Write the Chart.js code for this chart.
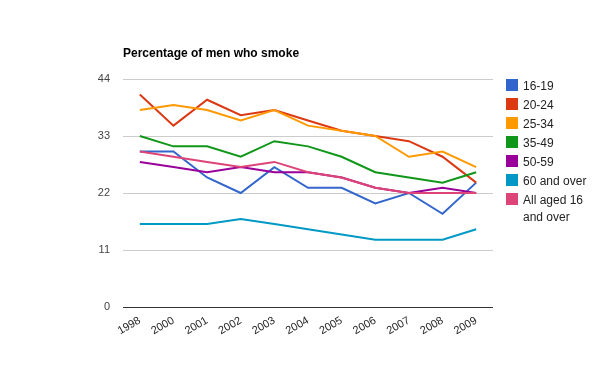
<!DOCTYPE html>
<html>
<head>
<meta charset="utf-8">
<script src="https://cdn.jsdelivr.net/npm/chart.js@4"></script>
<style>
html,body{margin:0;padding:0;background:#fff;}
#wrap{position:relative;width:600px;height:371px;}
#legend{position:absolute;left:506px;top:79px;font-family:Arial,"Liberation Sans",sans-serif;font-size:12px;color:#222;}
.li{position:relative;height:19px;}
.li .sw{position:absolute;left:0;top:0;width:12px;height:12px;}
.li .tx{position:absolute;left:17px;top:-1px;line-height:17px;white-space:nowrap;}
</style>
</head>
<body>
<div id="wrap">
<canvas id="c" width="600" height="371"></canvas>
<div id="legend"></div>
</div>
<script>
const title = "Percentage of men who smoke";
const years = ["1998","2000","2001","2002","2003","2004","2005","2006","2007","2008","2009"];
const seriesNames = ["16-19","20-24","25-34","35-49","50-59","60 and over","All aged 16 and over"];
const legendLines = [["16-19"],["20-24"],["25-34"],["35-49"],["50-59"],["60 and over"],["All aged 16","and over"]];
const age16_19 = [30,30,25,22,27,23,23,20,22,18,24];
const age20_24 = [41,35,40,37,38,36,34,33,32,29,24];
const age25_34 = [38,39,38,36,38,35,34,33,29,30,27];
const age35_49 = [33,31,31,29,32,31,29,26,25,24,26];
const age50_59 = [28,27,26,27,26,26,25,23,22,23,22];
const age60plus = [16,16,16,17,16,15,14,13,13,13,15];
const allAged = [30,29,28,27,28,26,25,23,22,22,22];
const yTicks = [0,11,22,33,44];
const colors = ["#3366cc","#dc3912","#ff9900","#109618","#990099","#0099c6","#dd4477"];

const allData = [age16_19,age20_24,age25_34,age35_49,age50_59,age60plus,allAged];
const datasets = allData.map((d,i)=>({
  label: seriesNames[i],
  data: d,
  borderColor: colors[i],
  backgroundColor: colors[i],
  borderWidth: 2,
  pointRadius: 0,
  tension: 0,
  fill: false,
  order: allData.length - i
}));

const titlePlugin = {
  id:'leftTitle',
  afterDraw(chart){
    const ctx = chart.ctx;
    ctx.save();
    ctx.font = 'bold 12px Arial, "Liberation Sans", sans-serif';
    ctx.fillStyle = '#000';
    ctx.textBaseline = 'alphabetic';
    ctx.textAlign = 'left';
    ctx.fillText(title, chart.chartArea.left, 57);
    ctx.restore();
  }
};
const zeroLine = {
  id:'zeroLine',
  afterDatasetsDraw(chart){
    const ctx = chart.ctx, y = chart.scales.y.getPixelForValue(0);
    ctx.save();
    ctx.strokeStyle = '#333';
    ctx.lineWidth = 1;
    ctx.beginPath();
    ctx.moveTo(chart.chartArea.left, Math.round(y)+0.5);
    ctx.lineTo(chart.chartArea.right, Math.round(y)+0.5);
    ctx.stroke();
    ctx.restore();
  }
};

new Chart(document.getElementById('c'), {
  type:'line',
  data:{labels:years, datasets:datasets},
  options:{
    responsive:false,
    animation:false,
    layout:{padding:{left:0,right:107,top:79,bottom:0}},
    plugins:{legend:{display:false},tooltip:{enabled:false},title:{display:false}},
    scales:{
      x:{
        offset:true,
        grid:{display:false,drawTicks:false},
        border:{display:false},
        ticks:{font:{family:'Arial, "Liberation Sans", sans-serif',size:11},color:'#222',maxRotation:30,minRotation:30,padding:7,autoSkip:false},
        afterFit(s){s.height=64;}
      },
      y:{
        min:0,max:44,
        afterBuildTicks(s){s.ticks = yTicks.map(v=>({value:v}));},
        grid:{color:'#cccccc',drawTicks:false,lineWidth:1},
        border:{display:false},
        ticks:{font:{family:'Arial, "Liberation Sans", sans-serif',size:11},color:'#444',padding:13},
        afterFit(s){s.width=123;}
      }
    }
  },
  plugins:[titlePlugin,zeroLine]
});

const lg = document.getElementById('legend');
legendLines.forEach((lines,i)=>{
  const row = document.createElement('div');
  row.className='li';
  if(lines.length>1) row.style.height = (19+17*(lines.length-1))+'px';
  const sw = document.createElement('div'); sw.className='sw'; sw.style.background=colors[i];
  const tx = document.createElement('div'); tx.className='tx'; tx.innerHTML = lines.join('<br>');
  row.appendChild(sw); row.appendChild(tx); lg.appendChild(row);
});
</script>
</body>
</html>
